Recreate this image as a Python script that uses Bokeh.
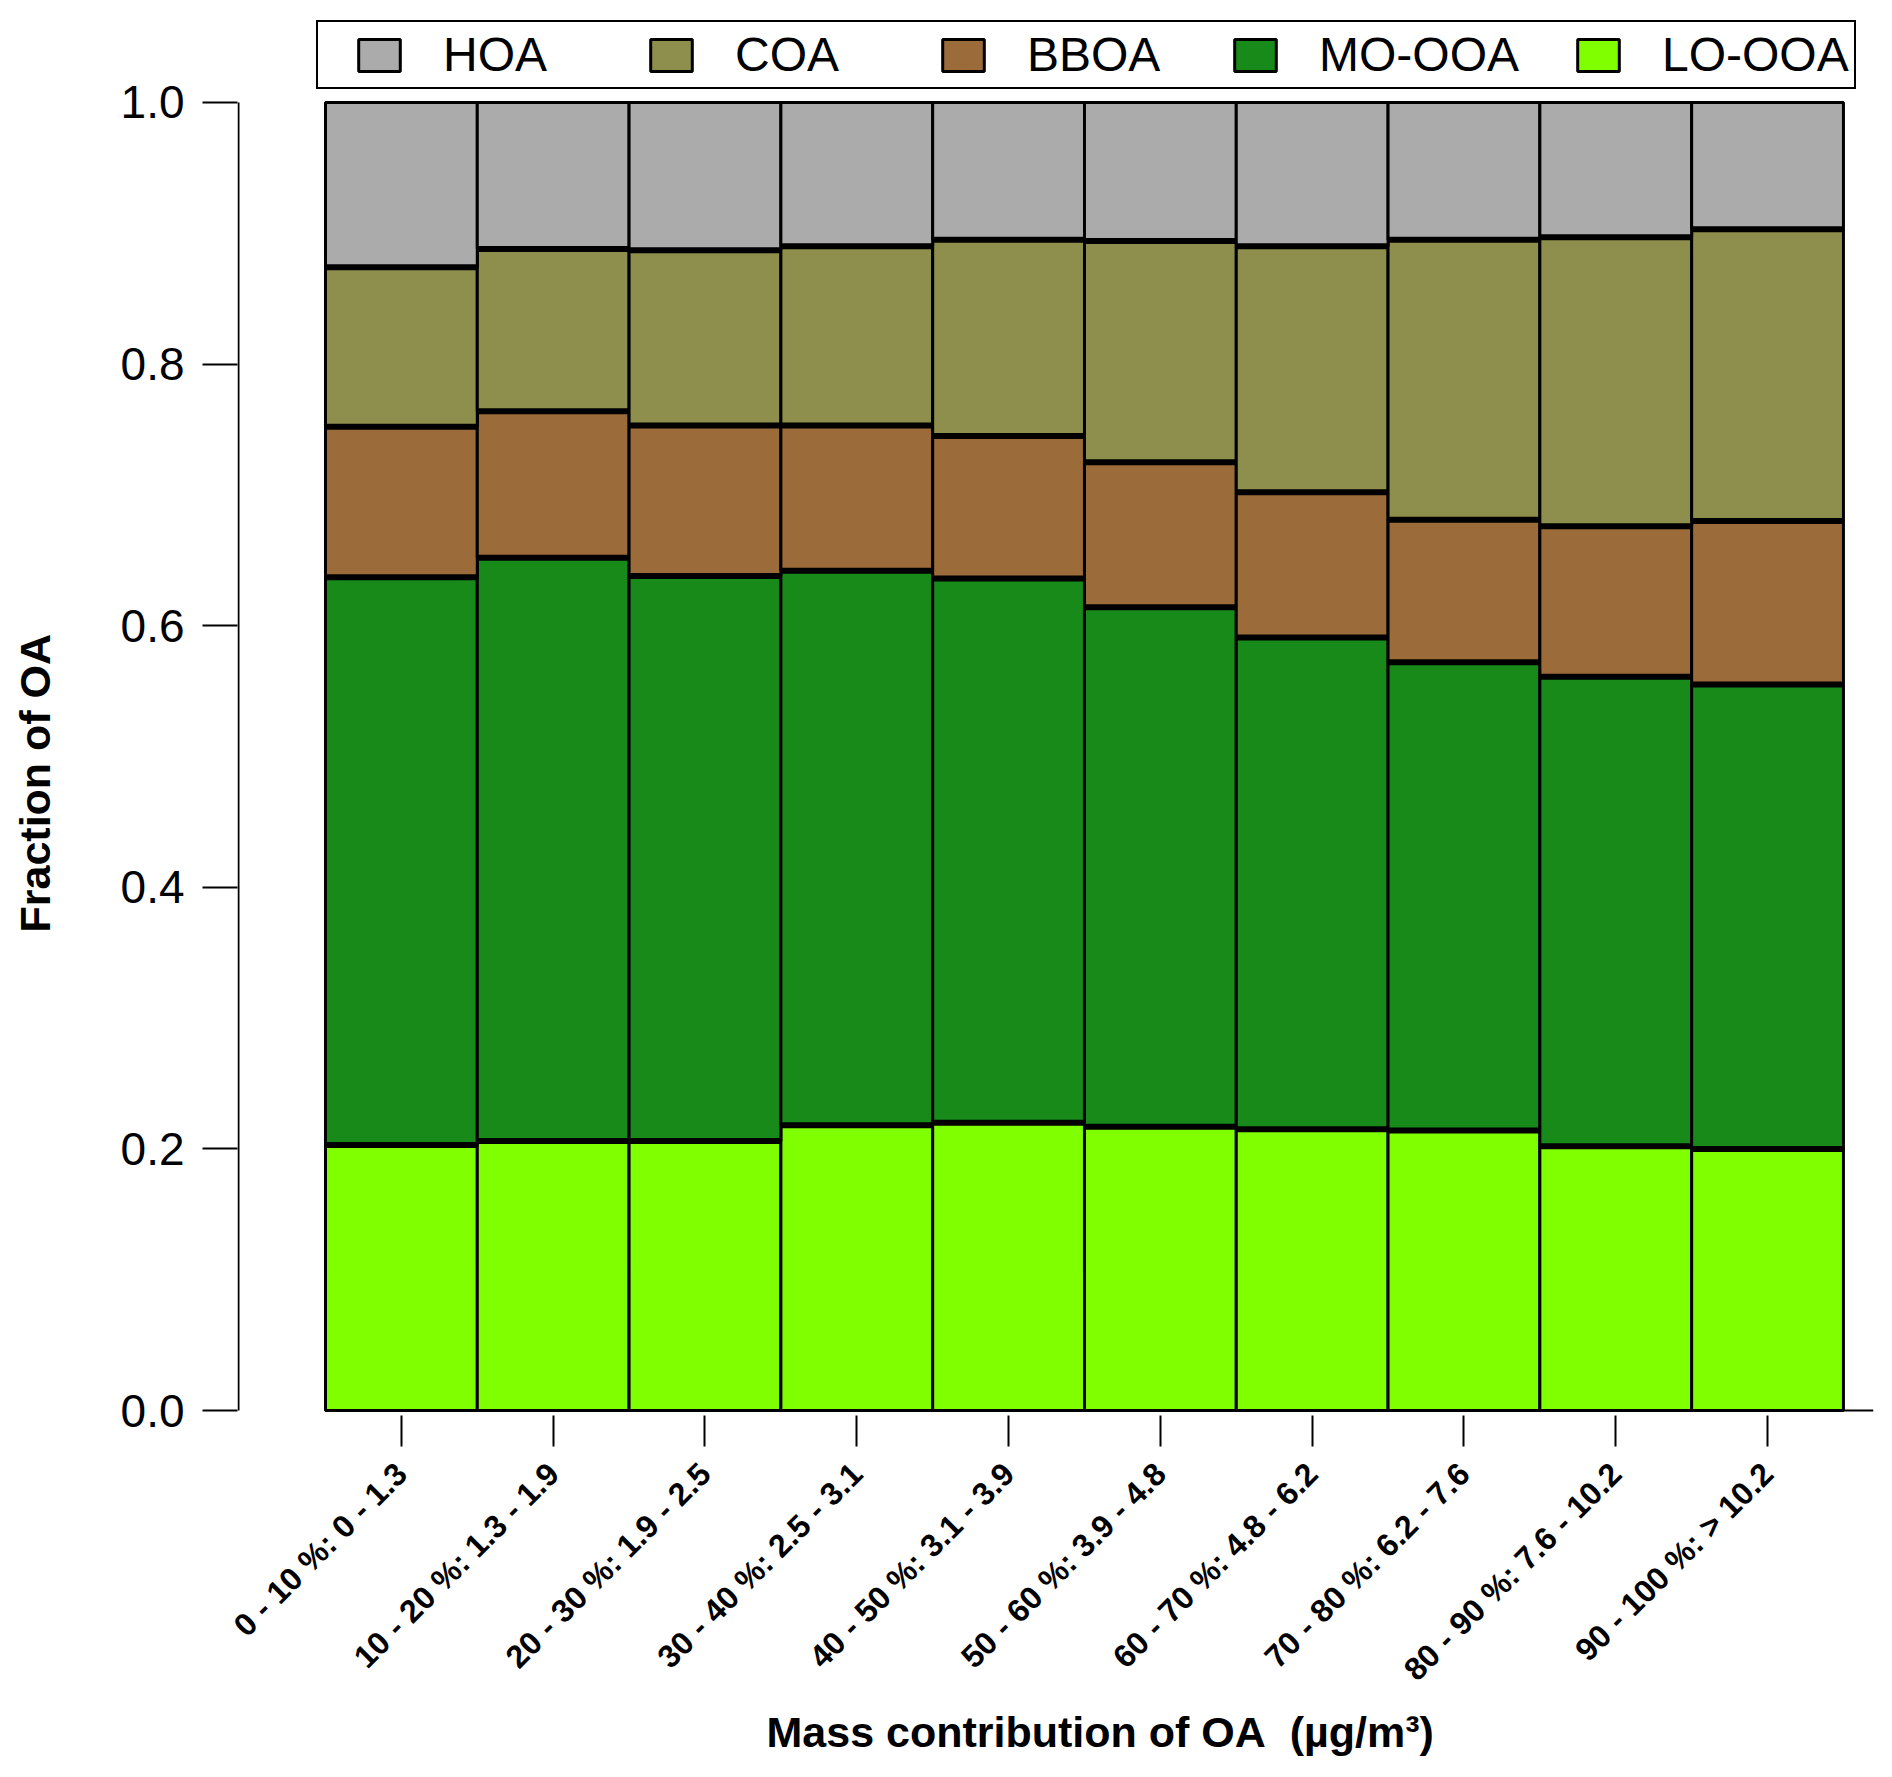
import math
import numpy as np
from bokeh.plotting import figure
from bokeh.models import (ColumnDataSource, Range1d, FixedTicker, Legend, LegendItem,
                          Title, PrintfTickFormatter)
from bokeh.embed import file_html
from bokeh.resources import INLINE

# ---------------- data ----------------
categories = ["0 - 10 %: 0 - 1.3", "10 - 20 %: 1.3 - 1.9", "20 - 30 %: 1.9 - 2.5",
              "30 - 40 %: 2.5 - 3.1", "40 - 50 %: 3.1 - 3.9", "50 - 60 %: 3.9 - 4.8",
              "60 - 70 %: 4.8 - 6.2", "70 - 80 %: 6.2 - 7.6", "80 - 90 %: 7.6 - 10.2",
              "90 - 100 %: > 10.2"]
lo_ooa = [0.203, 0.206, 0.206, 0.218, 0.220, 0.217, 0.215, 0.214, 0.202, 0.200]
mo_ooa = [0.434, 0.446, 0.432, 0.424, 0.416, 0.397, 0.376, 0.358, 0.359, 0.355]
bboa   = [0.115, 0.112, 0.115, 0.111, 0.109, 0.111, 0.111, 0.109, 0.115, 0.125]
coa    = [0.122, 0.124, 0.134, 0.137, 0.150, 0.169, 0.188, 0.214, 0.221, 0.223]
hoa    = [0.126, 0.112, 0.113, 0.110, 0.105, 0.106, 0.110, 0.105, 0.103, 0.097]
stack_order = ["LO-OOA", "MO-OOA", "BBOA", "COA", "HOA"]
legend_order = ["HOA", "COA", "BBOA", "MO-OOA", "LO-OOA"]
colors = {"HOA": "#ABABAB", "COA": "#8F8F4D", "BBOA": "#9C6B3A",
          "MO-OOA": "#178A1A", "LO-OOA": "#80FF00"}
y_ticks = [0.0, 0.2, 0.4, 0.6, 0.8, 1.0]
x_title = "Mass contribution of OA\u00a0 (\u00b5g/m\u00b3)"
y_title = "Fraction of OA"

FONT = "Liberation Sans"
W, H = 1884, 1769
FL, FR, FT, FB = 237, 1873, 10, 1415          # frame edges in canvas px
X0, X1 = -1.0797, 9.698
Y0, Y1 = -0.0038, 1.0703

xs = list(range(len(categories)))
src = ColumnDataSource(dict(x=xs, **{"LO-OOA": lo_ooa, "MO-OOA": mo_ooa, "BBOA": bboa,
                                     "COA": coa, "HOA": hoa}))

p = figure(width=W, height=H, output_backend="svg", toolbar_location=None,
           x_range=Range1d(X0, X1), y_range=Range1d(Y0, Y1),
           min_border_left=FL, min_border_right=W - FR,
           min_border_top=FT, min_border_bottom=H - FB)
p.outline_line_color = None
p.grid.visible = False
p.background_fill_color = "white"
p.border_fill_color = "white"

rends = p.vbar_stack(stack_order, x="x", width=1.0, source=src,
                     fill_color=[colors[c] for c in stack_order],
                     line_color="black", line_width=3)
rend_by_name = dict(zip(stack_order, rends))

# thick separators between stacked components
cum = np.cumsum(np.array([lo_ooa, mo_ooa, bboa, coa]), axis=0)
sx0, sx1, sy = [], [], []
for k in range(cum.shape[0]):
    for i, xc in enumerate(xs):
        sx0.append(xc - 0.5)
        sx1.append(xc + 0.5)
        sy.append(cum[k, i])
p.segment(x0=sx0, y0=sy, x1=sx1, y1=sy, line_color="black", line_width=6, line_cap="butt")

# axis lines (offset style)
px = (X1 - X0) / (FR - FL)
p.segment(x0=[X0 + px], y0=[0], x1=[X0 + px], y1=[1.0], line_color="black", line_width=2)
p.segment(x0=[xs[0] - 0.5], y0=[0], x1=[X1], y1=[0], line_color="black", line_width=2)

yax = p.yaxis[0]
yax.ticker = FixedTicker(ticks=y_ticks)
yax.formatter = PrintfTickFormatter(format="%.1f")
yax.axis_line_color = None
yax.major_tick_out = 35
yax.major_tick_in = 0
yax.minor_tick_out = 0
yax.minor_tick_in = 0
yax.major_tick_line_width = 2
yax.major_tick_line_color = "black"
yax.major_label_standoff = 18
yax.major_label_text_font = FONT
yax.major_label_text_font_size = "46px"
yax.major_label_text_color = "black"
yax.axis_label = " "
yax.axis_label_text_font_size = "1px"
yax.axis_label_standoff = 49

xax = p.xaxis[0]
xax.ticker = FixedTicker(ticks=xs)
xax.major_label_overrides = {i: c for i, c in zip(xs, categories)}
xax.major_label_orientation = math.pi / 4
xax.axis_line_color = None
xax.major_tick_out = 31
xax.major_tick_in = 0
xax.minor_tick_out = 0
xax.minor_tick_in = 0
xax.major_tick_line_width = 2
xax.major_tick_line_color = "black"
xax.major_label_standoff = 22
xax.major_label_text_font = FONT
xax.major_label_text_font_style = "bold"
xax.major_label_text_font_size = "32px"
xax.major_label_text_color = "black"

legend = Legend(items=[LegendItem(label=n, renderers=[rend_by_name[n]]) for n in legend_order],
                orientation="horizontal", location=(79, 1326), padding=5,
                spacing=53, label_standoff=38, glyph_width=52, glyph_height=40,
                label_width=149,
                title="\u00a0", title_location="left", title_standoff=29,
                title_text_font_size="1px",
                label_text_font=FONT, label_text_font_size="48px", label_text_color="black",
                border_line_color="black", border_line_width=2, border_line_alpha=1.0,
                background_fill_color="white", background_fill_alpha=1.0)
p.add_layout(legend)

p.add_layout(Title(text=y_title, align="left", offset=FB - 932, vertical_align="middle",
                   text_font=FONT, text_font_style="bold", text_font_size="43px",
                   text_color="black", standoff=10), "left")
p.add_layout(Title(text=x_title, align="left", offset=766 - FL, vertical_align="bottom",
                   text_font=FONT, text_font_style="bold", text_font_size="43px",
                   text_color="black", standoff=4), "below")

open("out.html", "w").write(file_html(p, INLINE))
